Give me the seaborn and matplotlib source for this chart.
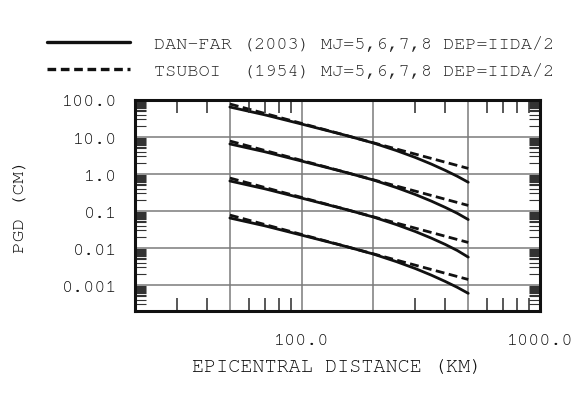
import numpy as np
import pandas as pd
import seaborn as sns
import matplotlib
matplotlib.use("Agg")
import matplotlib.pyplot as plt
from matplotlib.lines import Line2D
from matplotlib.ticker import FixedLocator, NullFormatter, NullLocator

# Epicentral distance (km) sampled along the DAN-FAR curves
dist_km = [50, 70, 100, 150, 200, 250, 300, 350, 400, 450, 500]

# DAN-FAR (2003) peak ground displacement (cm), MJ = 8, 7, 6, 5
danfar_m8 = [64.6, 39.8, 22.4, 11.5, 6.9, 4.3, 2.8, 1.86, 1.26, 0.87, 0.60]
danfar_m7 = [6.5, 4.0, 2.24, 1.15, 0.69, 0.43, 0.28, 0.186, 0.126, 0.087, 0.059]
danfar_m6 = [0.65, 0.40, 0.224, 0.115, 0.069, 0.043, 0.028, 0.0186, 0.0126, 0.0086, 0.0057]
danfar_m5 = [0.065, 0.040, 0.0224, 0.0115, 0.0069, 0.0043, 0.0028, 0.00186, 0.00126, 0.00087, 0.00060]

# TSUBOI (1954) straight lines in log-log space: end points at 50 and 500 km
tsuboi_dist = [50, 500]
tsuboi_m8 = [78.0, 1.42]
tsuboi_m7 = [7.8, 0.142]
tsuboi_m6 = [0.78, 0.0142]
tsuboi_m5 = [0.078, 0.00142]

x_grid = [50, 100, 200, 500, 1000]
x_tick_labels = ["", "100.0", "", "", "1000.0"]
x_minor = [30, 40, 60, 70, 80, 90, 300, 400, 600, 700, 800, 900]
y_grid = [0.001, 0.01, 0.1, 1.0, 10.0, 100.0]
y_tick_labels = ["0.001", "0.01", "0.1", "1.0", "10.0", "100.0"]
y_minor_mult = [2, 3, 4, 5, 5.5, 6, 6.5, 7, 7.5, 8, 8.5, 9, 9.5]

legend_labels = ["DAN-FAR (2003) MJ=5,6,7,8 DEP=IIDA/2",
                 "TSUBOI  (1954) MJ=5,6,7,8 DEP=IIDA/2"]

sns.set_style("white")
plt.rcParams["font.family"] = ["Courier New", "Nimbus Mono PS", "FreeMono",
                               "Liberation Mono", "DejaVu Sans Mono"]
plt.rcParams["font.size"] = 13.3

frames = []
for mj, vals in zip([8, 7, 6, 5], [danfar_m8, danfar_m7, danfar_m6, danfar_m5]):
    frames.append(pd.DataFrame({"dist": dist_km, "pgd": vals, "mj": mj, "model": "DAN-FAR"}))
for mj, vals in zip([8, 7, 6, 5], [tsuboi_m8, tsuboi_m7, tsuboi_m6, tsuboi_m5]):
    frames.append(pd.DataFrame({"dist": tsuboi_dist, "pgd": vals, "mj": mj, "model": "TSUBOI"}))
df = pd.concat(frames, ignore_index=True)

fig = plt.figure(figsize=(5.73, 4.06), dpi=100)
ax = fig.add_axes([135 / 573, 1 - 312 / 406, 405 / 573, 211 / 406])

ink = "#111111"
sns.lineplot(data=df[df.model == "TSUBOI"], x="dist", y="pgd", units="mj",
             estimator=None, sort=False, color=ink, lw=2.0,
             dashes=False, linestyle=(0, (3.2, 1.6)), ax=ax, legend=False)
sns.lineplot(data=df[df.model == "DAN-FAR"], x="dist", y="pgd", units="mj",
             estimator=None, sort=False, color=ink, lw=2.0, ax=ax, legend=False)

ax.set_xscale("log")
ax.set_yscale("log")
ax.set_xlim(20, 1000)
ax.set_ylim(2e-4, 100)

# Major positions carry the grid and labels
ax.xaxis.set_major_locator(FixedLocator(x_grid))
ax.xaxis.set_minor_locator(NullLocator())
ax.set_xticklabels(x_tick_labels)

# Inward distance ticks along the bottom and top frame
xt = ax.get_xaxis_transform()
tick_frac = 13 / 211
ax.vlines(x_minor, 0, tick_frac, transform=xt, color="#2a2a2a", lw=1.1, clip_on=False)
ax.vlines(x_minor, 1 - tick_frac, 1, transform=xt, color="#2a2a2a", lw=1.1, clip_on=False)

y_minor = [m * 10.0 ** d for d in range(-4, 2) for m in y_minor_mult]
y_minor = [v for v in y_minor if 2e-4 < v < 100]
ax.yaxis.set_major_locator(FixedLocator(y_grid))
ax.yaxis.set_minor_locator(FixedLocator(y_minor))
ax.yaxis.set_minor_formatter(NullFormatter())
ax.set_yticklabels(y_tick_labels)
ax.tick_params(axis="y", which="minor", direction="in", left=True, right=True,
               length=8, width=0.8, color="#333333")

ax.grid(True, which="major", color="#7a7a7a", lw=1.1)
ax.tick_params(axis="x", which="major", length=0, pad=16, labelsize=13.3,
               labelcolor=ink)
ax.tick_params(axis="y", which="major", length=0, pad=13, labelsize=13.3,
               labelcolor=ink)

for s in ax.spines.values():
    s.set_visible(True)
    s.set_color(ink)
    s.set_linewidth(2.2)

ax.set_xlabel("EPICENTRAL DISTANCE (KM)", fontsize=14.5, color=ink)
ax.set_ylabel("PGD (CM)", fontsize=14, color=ink)
ax.xaxis.set_label_coords(0.5, -0.225)
ax.yaxis.set_label_coords(-0.267, 0.5)

handles = [Line2D([], [], color=ink, lw=2.4),
           Line2D([], [], color=ink, lw=2.4, linestyle=(0, (2.6, 1.4)))]
fig.legend(handles, legend_labels, loc="upper left",
           bbox_to_anchor=(47 / 573, 1 - 36 / 406), frameon=False,
           fontsize=13.3, handlelength=4.5, handletextpad=1.3,
           labelspacing=0.62, borderaxespad=0, borderpad=0)

fig.savefig("out.png", dpi=100)
